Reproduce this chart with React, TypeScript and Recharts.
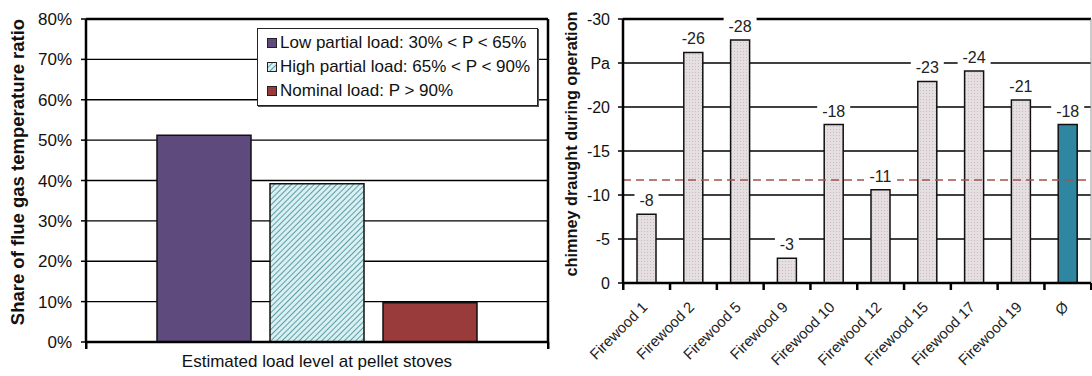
import React from "react";
import {
  Bar,
  BarChart,
  CartesianGrid,
  Cell,
  Label,
  LabelList,
  Legend,
  ReferenceLine,
  XAxis,
  YAxis,
} from "recharts";

// left panel: share of flue gas temperature ratio per load level
const LOAD_CATEGORY = ["Estimated load level at pellet stoves"];
const LOW_PARTIAL = [51.2];
const HIGH_PARTIAL = [39.2];
const NOMINAL = [9.7];
const SHARE_TICKS = [0, 10, 20, 30, 40, 50, 60, 70, 80];
const LOAD_SERIES = [
  "Low partial load: 30% < P < 65%",
  "High partial load: 65% < P < 90%",
  "Nominal load: P > 90%",
];

// right panel: chimney draught per firewood stove
const STOVES = [
  "Firewood 1",
  "Firewood 2",
  "Firewood 5",
  "Firewood 9",
  "Firewood 10",
  "Firewood 12",
  "Firewood 15",
  "Firewood 17",
  "Firewood 19",
  "Ø",
];
const DRAUGHT = [-7.8, -26.2, -27.6, -2.8, -18.0, -10.6, -22.9, -24.1, -20.8, -18.0];
const DRAUGHT_TICKS = [0, -5, -10, -15, -20, -25, -30];
const DRAUGHT_LIMIT = -11.7;

const FONT = "'Liberation Sans', Arial, sans-serif";
const INK = "#111";
const PURPLE = "#5f4a7e";
const RED = "#9a3b3b";
const TEAL = "#2e86a0";

// chart boxes
const SHARE_W = 560;
const SHARE_MARGIN = { top: 19, right: 12, bottom: 0, left: 0 };
const SHARE_YAXIS_W = 86;
const DRAUGHT_W = 532;
const DRAUGHT_MARGIN = { top: 19, right: 1, bottom: 0, left: 0 };
const DRAUGHT_YAXIS_W = 63;

const shareData = LOAD_CATEGORY.map((name, i) => ({
  name,
  low: LOW_PARTIAL[i],
  high: HIGH_PARTIAL[i],
  nominal: NOMINAL[i],
}));

const draughtData = STOVES.map((name, i) => ({ name, value: DRAUGHT[i] }));

const shareHalfBand = (SHARE_W - SHARE_MARGIN.right - SHARE_MARGIN.left - SHARE_YAXIS_W) / LOAD_CATEGORY.length / 2;
const draughtHalfBand = (DRAUGHT_W - DRAUGHT_MARGIN.right - DRAUGHT_MARGIN.left - DRAUGHT_YAXIS_W) / STOVES.length / 2;

function Patterns() {
  return (
    <defs>
      <pattern id="hatch" width="4" height="4" patternUnits="userSpaceOnUse" patternTransform="rotate(45)">
        <rect width="4" height="4" fill="#d9f0f2" />
        <line x1="0" y1="0" x2="0" y2="4" stroke="#5f9ea6" strokeWidth="2" />
      </pattern>
      <pattern id="dots" width="3" height="3" patternUnits="userSpaceOnUse">
        <rect width="3" height="3" fill="#e6dfe2" />
        <rect width="1" height="1" fill="#c9bcc2" />
      </pattern>
    </defs>
  );
}

function axisTitle(text: string, x: number, y: number, size: number) {
  return () => (
    <text
      x={x}
      y={y}
      transform={`rotate(-90 ${x} ${y})`}
      textAnchor="middle"
      dominantBaseline="central"
      fontFamily={FONT}
      fontWeight="bold"
      fontSize={size}
      fill={INK}
    >
      {text}
    </text>
  );
}

function ShareLegend(props: any) {
  const items = ((props.payload || []) as any[])
    .slice()
    .sort((a, b) => LOAD_SERIES.indexOf(a.value) - LOAD_SERIES.indexOf(b.value));
  return (
    <div
      style={{
        background: "#fff",
        border: "1.5px solid #222",
        padding: "2px 6px 2px 9px",
        fontFamily: FONT,
        fontSize: 17,
        color: INK,
        lineHeight: "24px",
        boxShadow: "1px 1px 0 #555",
      }}
    >
      {items.map((it) => (
        <div key={it.value} style={{ display: "flex", alignItems: "center", whiteSpace: "nowrap" }}>
          <svg width={10} height={10} style={{ marginRight: 3 }}>
            <rect x={0.5} y={0.5} width={9} height={9} fill={it.color} stroke="#222" />
          </svg>
          {it.value}
        </div>
      ))}
    </div>
  );
}

// category-boundary tick marks, Excel style
function EdgeMarks({ cx, ay, half, both }: { cx: number; ay: number; half: number; both: boolean }) {
  return (
    <>
      <rect x={cx - half - 1} y={ay} width={2.5} height={7} fill="#000" stroke="none" />
      {both && <rect x={cx + half - 1} y={ay} width={2.5} height={7} fill="#000" stroke="none" />}
    </>
  );
}

function LoadTick(props: any) {
  const { x, y, payload } = props;
  const cx = Number(x);
  const ay = Number(y);
  return (
    <g>
      <EdgeMarks cx={cx} ay={ay} half={shareHalfBand} both />
      <text x={cx} y={ay + 13} dy="0.71em" textAnchor="middle" fontFamily={FONT} fontSize={17} fill={INK}>
        {payload.value}
      </text>
    </g>
  );
}

function StoveTick(props: any) {
  const { x, y, payload } = props;
  const cx = Number(x);
  const ay = Number(y);
  const px = cx + 2;
  const py = ay + 25;
  const last = payload.value === STOVES[STOVES.length - 1];
  return (
    <g>
      <EdgeMarks cx={cx} ay={ay} half={draughtHalfBand} both={last} />
      <text
        x={px}
        y={py}
        transform={`rotate(-45 ${px} ${py})`}
        textAnchor="end"
        fontFamily={FONT}
        fontSize={15}
        fill="#222"
      >
        {payload.value}
      </text>
    </g>
  );
}

function DraughtLabel(props: any) {
  const x = Number(props.x);
  const y = Number(props.y);
  const width = Number(props.width);
  const height = Number(props.height);
  const top = Math.min(y, y + height);
  const cx = x + width / 2;
  const text = String(Math.round(Number(props.value)));
  const w = text.length * 9 + 6;
  return (
    <g>
      <rect x={cx - w / 2} y={top - 23} width={w} height={18} fill="#fff" />
      <text x={cx} y={top - 8} textAnchor="middle" fontFamily={FONT} fontSize={16} fill="#222">
        {text}
      </text>
    </g>
  );
}

function ShareChart() {
  return (
    <BarChart
      width={SHARE_W}
      height={376}
      data={shareData}
      margin={SHARE_MARGIN}
      barSize={94}
      barGap={19}
    >
      <Patterns />
      <CartesianGrid vertical={false} stroke="#000" strokeWidth={1.3} />
      <XAxis
        dataKey="name"
        height={34}
        tickLine={false}
        tickSize={0}
        tickMargin={0}
        axisLine={{ stroke: "#000", strokeWidth: 2.5 }}
        tick={<LoadTick />}
      />
      <YAxis
        width={SHARE_YAXIS_W}
        domain={[0, 80]}
        ticks={SHARE_TICKS}
        interval={0}
        tickFormatter={(v) => `${v}%`}
        axisLine={{ stroke: "#000", strokeWidth: 2.5 }}
        tickLine={{ stroke: "#000", strokeWidth: 1.5 }}
        tickSize={5}
        tickMargin={9}
        tick={{ fontFamily: FONT, fontSize: 17, fill: INK }}
      >
        <Label content={axisTitle("Share of flue gas temperature ratio", 17, 172, 18.5)} />
      </YAxis>
      <Legend
        layout="horizontal"
        align="center"
        verticalAlign="middle"
        content={<ShareLegend />}
        wrapperStyle={{ position: "absolute", left: 257, top: 28, width: 281 }}
      />
      <Bar dataKey="low" name={LOAD_SERIES[0]} fill={PURPLE} stroke="#111" strokeWidth={1.5} isAnimationActive={false} />
      <Bar dataKey="high" name={LOAD_SERIES[1]} fill="url(#hatch)" stroke="#111" strokeWidth={1.5} isAnimationActive={false} />
      <Bar dataKey="nominal" name={LOAD_SERIES[2]} fill={RED} stroke="#111" strokeWidth={1.5} isAnimationActive={false} />
      <ReferenceLine y={80} stroke="#000" strokeWidth={2.5} />
      <ReferenceLine x={LOAD_CATEGORY[0]} position="end" stroke="#000" strokeWidth={2.5} />
    </BarChart>
  );
}

function DraughtChart() {
  return (
    <BarChart
      width={DRAUGHT_W}
      height={376}
      data={draughtData}
      margin={DRAUGHT_MARGIN}
      barSize={19}
    >
      <Patterns />
      <CartesianGrid vertical={false} stroke="#000" strokeWidth={1.3} />
      <XAxis
        dataKey="name"
        height={93}
        interval={0}
        tickLine={false}
        tickSize={0}
        tickMargin={0}
        axisLine={{ stroke: "#000", strokeWidth: 2.5 }}
        tick={<StoveTick />}
      />
      <YAxis
        width={DRAUGHT_YAXIS_W}
        reversed
        domain={[-30, 0]}
        ticks={DRAUGHT_TICKS}
        interval={0}
        tickFormatter={(v) => (v === -25 ? "Pa" : String(v))}
        axisLine={{ stroke: "#000", strokeWidth: 2.5 }}
        tickLine={{ stroke: "#000", strokeWidth: 1.5 }}
        tickSize={5}
        tickMargin={8}
        tick={{ fontFamily: FONT, fontSize: 16, fill: INK }}
      >
        <Label content={axisTitle("chimney draught during operation", 11, 144, 16.3)} />
      </YAxis>
      <Bar dataKey="value" fill="url(#dots)" stroke="#111" strokeWidth={1.5} isAnimationActive={false}>
        {draughtData.map((d, i) => (
          <Cell key={d.name} fill={i === draughtData.length - 1 ? TEAL : "url(#dots)"} />
        ))}
        <LabelList dataKey="value" content={<DraughtLabel />} />
      </Bar>
      <ReferenceLine y={DRAUGHT_LIMIT} stroke="#a4504e" strokeWidth={1.5} strokeDasharray="8 5" />
      <ReferenceLine y={-30} stroke="#000" strokeWidth={2.5} />
      <ReferenceLine x={STOVES[STOVES.length - 1]} position="end" stroke="#999" strokeWidth={1} />
    </BarChart>
  );
}

export default function App() {
  return (
    <div
      style={{
        position: "absolute",
        left: 0,
        top: 0,
        width: 1092,
        height: 376,
        background: "#fff",
        display: "flex",
        overflow: "hidden",
      }}
    >
      <ShareChart />
      <DraughtChart />
    </div>
  );
}
